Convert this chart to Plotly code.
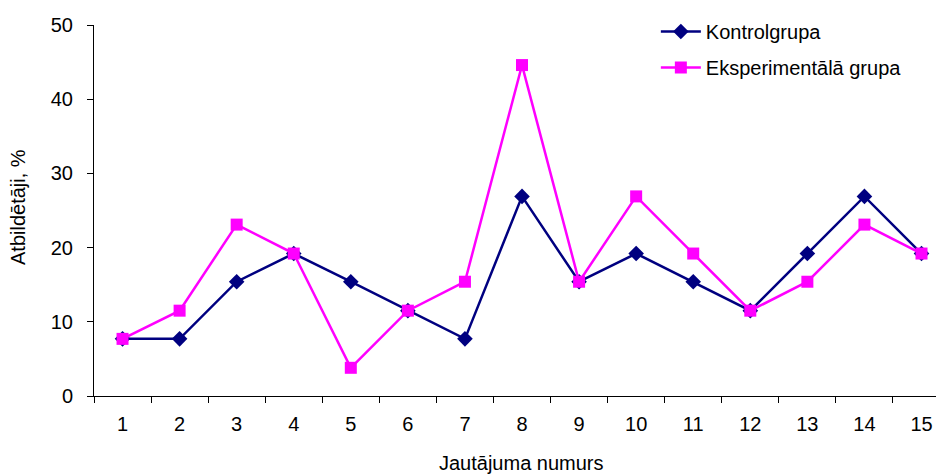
import plotly.graph_objects as go

questions = list(range(1, 16))
kontrolgrupa = [7.7, 7.7, 15.4, 19.2, 15.4, 11.5, 7.7, 26.9, 15.4, 19.2, 15.4, 11.5, 19.2, 26.9, 19.2]
eksperimentala = [7.7, 11.5, 23.1, 19.2, 3.8, 11.5, 15.4, 44.6, 15.4, 26.9, 19.2, 11.5, 15.4, 23.1, 19.2]
y_ticks = [0, 10, 20, 30, 40, 50]

FONT = "Liberation Sans, Arial, sans-serif"

fig = go.Figure()
fig.add_trace(go.Scatter(
    x=questions, y=kontrolgrupa, name="Kontrolgrupa", mode="lines+markers",
    line=dict(color="#000080", width=2.5),
    marker=dict(symbol="diamond", size=12, color="#000080"),
    legendgroup="a", cliponaxis=False,
))
fig.add_trace(go.Scatter(
    x=questions, y=eksperimentala, name="Eksperimentālā grupa", mode="lines+markers",
    line=dict(color="#FF00FF", width=2.5),
    marker=dict(symbol="square", size=12, color="#FF00FF"),
    legendgroup="b", cliponaxis=False,
))

# page body has an 8px margin, so the figure is drawn 8px right/down
fig.update_layout(
    width=936, height=466,
    margin=dict(l=86, r=0, t=17, b=78, autoexpand=False),
    paper_bgcolor="white", plot_bgcolor="white",
    font=dict(family=FONT, size=20, color="black"),
    showlegend=True,
    legend=dict(
        x=0.661, y=1.035, xanchor="left", yanchor="top",
        bgcolor="rgba(0,0,0,0)", font=dict(size=20),
        traceorder="grouped", tracegroupgap=7, itemwidth=40,
    ),
    xaxis=dict(
        range=[0.5, 15.394], tickmode="array", tickvals=questions,
        ticktext=[str(q) for q in questions], ticks="", showgrid=False,
        zeroline=False, showline=True, linecolor="black", linewidth=1,
        minor=dict(tick0=0.5, dtick=1, ticks="outside", ticklen=6, tickcolor="black", showgrid=False),
        tickfont=dict(size=20), ticklabelstandoff=10, automargin=False,
    ),
    yaxis=dict(
        range=[0, 50], tickmode="array", tickvals=y_ticks, ticks="outside",
        ticklen=6, tickcolor="black", showgrid=False, zeroline=False,
        showline=True, linecolor="black", linewidth=1, tickfont=dict(size=20),
        ticklabelstandoff=10, automargin=False,
    ),
    annotations=[
        dict(text="Jautājuma numurs", xref="paper", yref="paper",
             x=(521 - 94) / 850, y=-(463 - 396) / 371, xanchor="center", yanchor="middle",
             showarrow=False, font=dict(size=20)),
        dict(text="Atbildētāji, %", xref="paper", yref="paper", textangle=-90,
             x=-(94 - 18) / 850, y=(396 - 207) / 371, xanchor="center", yanchor="middle",
             showarrow=False, font=dict(size=20)),
    ],
)

fig.write_html("out.html")
